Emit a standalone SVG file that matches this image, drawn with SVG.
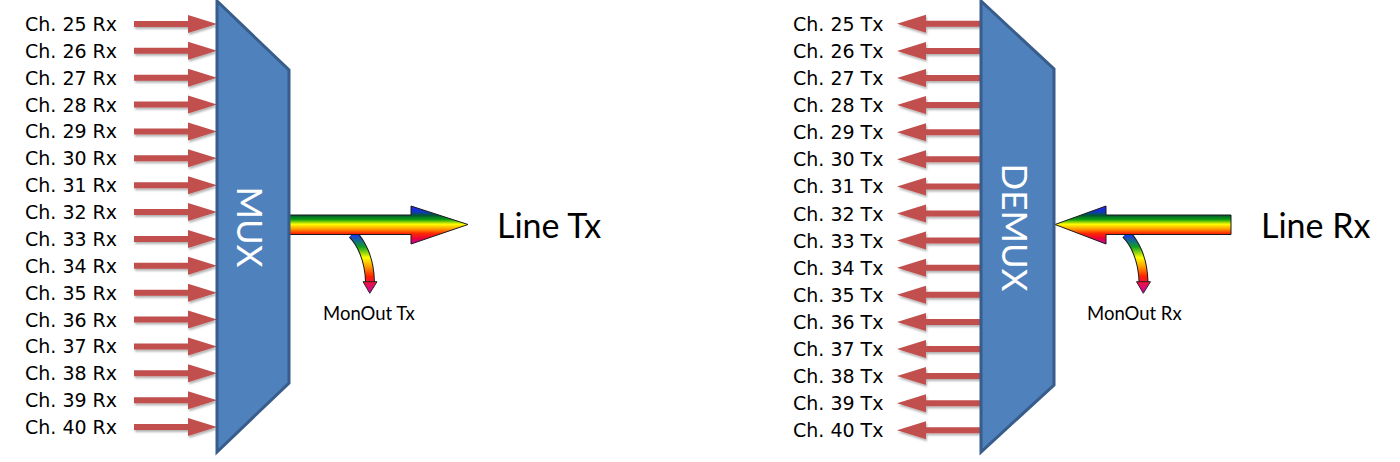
<svg xmlns="http://www.w3.org/2000/svg" width="1400" height="462" viewBox="0 0 1400 462">
<defs>
<style>
.ch{font-family:"DejaVu Sans","Verdana",sans-serif;font-size:19px;fill:#000}
.big{font-family:Lato,"Liberation Sans",sans-serif;font-size:34px;fill:#000}
.mon{font-family:Lato,"Liberation Sans",sans-serif;font-size:18.5px;fill:#000}
.lbl{font-family:Lato,"Liberation Sans",sans-serif;font-size:35px;fill:#fff;text-anchor:middle}
.blk{fill:#4F81BD;stroke:#385D8A;stroke-width:3;stroke-linejoin:miter}
.red{fill:#C0504D}
.rb{stroke:#1a1a1a;stroke-width:1;stroke-linejoin:miter}
</style>
<filter id="sh" x="-10%" y="-50%" width="130%" height="250%">
<feDropShadow dx="1" dy="2" stdDeviation="1.2" flood-color="#000" flood-opacity="0.3"/>
</filter>
<linearGradient id="rbg" x1="0" y1="0" x2="0" y2="1">
<stop offset="0" stop-color="#2a1aff"/>
<stop offset="0.15" stop-color="#1038c0"/>
<stop offset="0.25" stop-color="#005a30"/>
<stop offset="0.36" stop-color="#10a010"/>
<stop offset="0.48" stop-color="#ffff00"/>
<stop offset="0.6" stop-color="#ffa000"/>
<stop offset="0.72" stop-color="#ff2a00"/>
<stop offset="0.86" stop-color="#e8003c"/>
<stop offset="1" stop-color="#c800b4"/>
</linearGradient>
<linearGradient id="smg" gradientUnits="userSpaceOnUse" x1="0" y1="0" x2="0" y2="59">
<stop offset="0" stop-color="#1a30ff"/>
<stop offset="0.22" stop-color="#10a020"/>
<stop offset="0.4" stop-color="#ffff00"/>
<stop offset="0.55" stop-color="#ffa000"/>
<stop offset="0.72" stop-color="#ff2000"/>
<stop offset="1" stop-color="#cc00aa"/>
</linearGradient>
<path id="ra" d="M0,-3 H54 V-9 L83,0 L54,9 V3 H0 Z"/>
<path id="la" d="M0,0 L29,-9 V-3 H83 V3 H29 V9 Z"/>
<g id="mon">
<path d="M0,0 C8,8 17,24 17.5,48" fill="none" stroke="#1a1a1a" stroke-width="10"/>
<path d="M0,0 C8,8 17,24 17.5,48" fill="none" stroke="url(#smg)" stroke-width="8"/>
<path d="M10.5,47.7 L24.5,47.7 L17.3,59.3 Z" fill="url(#smg)" stroke="#1a1a1a" stroke-width="0.9"/>
</g>
</defs>

<g id="connectors">
<g id="mux-inputs" class="red" filter="url(#sh)">
<use href="#ra" x="134" y="24"/>
<use href="#ra" x="134" y="50.87"/>
<use href="#ra" x="134" y="77.73"/>
<use href="#ra" x="134" y="104.6"/>
<use href="#ra" x="134" y="131.47"/>
<use href="#ra" x="134" y="158.33"/>
<use href="#ra" x="134" y="185.2"/>
<use href="#ra" x="134" y="212.07"/>
<use href="#ra" x="134" y="238.93"/>
<use href="#ra" x="134" y="265.8"/>
<use href="#ra" x="134" y="292.67"/>
<use href="#ra" x="134" y="319.53"/>
<use href="#ra" x="134" y="346.4"/>
<use href="#ra" x="134" y="373.27"/>
<use href="#ra" x="134" y="400.13"/>
<use href="#ra" x="134" y="427"/>
</g>
<g id="demux-outputs" class="red" filter="url(#sh)">
<use href="#la" x="897" y="23.8"/>
<use href="#la" x="897" y="50.9"/>
<use href="#la" x="897" y="78"/>
<use href="#la" x="897" y="105.1"/>
<use href="#la" x="897" y="132.2"/>
<use href="#la" x="897" y="159.3"/>
<use href="#la" x="897" y="186.4"/>
<use href="#la" x="897" y="213.5"/>
<use href="#la" x="897" y="240.6"/>
<use href="#la" x="897" y="267.7"/>
<use href="#la" x="897" y="294.8"/>
<use href="#la" x="897" y="321.9"/>
<use href="#la" x="897" y="349"/>
<use href="#la" x="897" y="376.1"/>
<use href="#la" x="897" y="403.2"/>
<use href="#la" x="897" y="430.3"/>
</g>
<g id="monout-tx-arrow"><use href="#mon" x="352.5" y="234"/></g>
<g id="monout-rx-arrow"><use href="#mon" x="1126" y="234"/></g>
<path id="line-tx-arrow" class="rb" fill="url(#rbg)" d="M289,215 H411 V206 L468,224.5 L411,244 V234.5 H289 Z"/>
<path id="line-rx-arrow" class="rb" fill="url(#rbg)" d="M1231,215 H1106 V206 L1055,224.5 L1106,244 V234.5 H1231 Z"/>
</g>

<g id="mux">
<polygon class="blk" points="217,1 289,70 289,383 217,452"/>
<text class="lbl" transform="translate(237,227) rotate(90)">MUX</text>
</g>
<g id="demux">
<polygon class="blk" points="981,1 1054,69 1054,385 981,452"/>
<text class="lbl" transform="translate(1002,227.5) rotate(90)">DEMUX</text>
</g>

<g id="line-tx"><text class="big" x="497" y="238">Line Tx</text></g>
<g id="line-rx"><text class="big" x="1261" y="238">Line Rx</text></g>
<g id="monout-tx"><text class="mon" x="323" y="320">MonOut Tx</text></g>
<g id="monout-rx"><text class="mon" x="1087" y="320">MonOut Rx</text></g>

<g id="mux-labels" class="ch">
<text x="25" y="31">Ch. 25 Rx</text>
<text x="25" y="57.87">Ch. 26 Rx</text>
<text x="25" y="84.73">Ch. 27 Rx</text>
<text x="25" y="111.6">Ch. 28 Rx</text>
<text x="25" y="138.47">Ch. 29 Rx</text>
<text x="25" y="165.33">Ch. 30 Rx</text>
<text x="25" y="192.2">Ch. 31 Rx</text>
<text x="25" y="219.07">Ch. 32 Rx</text>
<text x="25" y="245.93">Ch. 33 Rx</text>
<text x="25" y="272.8">Ch. 34 Rx</text>
<text x="25" y="299.67">Ch. 35 Rx</text>
<text x="25" y="326.53">Ch. 36 Rx</text>
<text x="25" y="353.4">Ch. 37 Rx</text>
<text x="25" y="380.27">Ch. 38 Rx</text>
<text x="25" y="407.13">Ch. 39 Rx</text>
<text x="25" y="434">Ch. 40 Rx</text>
</g>
<g id="demux-labels" class="ch">
<text x="793" y="30.8">Ch. 25 Tx</text>
<text x="793" y="57.9">Ch. 26 Tx</text>
<text x="793" y="85">Ch. 27 Tx</text>
<text x="793" y="112.1">Ch. 28 Tx</text>
<text x="793" y="139.2">Ch. 29 Tx</text>
<text x="793" y="166.3">Ch. 30 Tx</text>
<text x="793" y="193.4">Ch. 31 Tx</text>
<text x="793" y="220.5">Ch. 32 Tx</text>
<text x="793" y="247.6">Ch. 33 Tx</text>
<text x="793" y="274.7">Ch. 34 Tx</text>
<text x="793" y="301.8">Ch. 35 Tx</text>
<text x="793" y="328.9">Ch. 36 Tx</text>
<text x="793" y="356">Ch. 37 Tx</text>
<text x="793" y="383.1">Ch. 38 Tx</text>
<text x="793" y="410.2">Ch. 39 Tx</text>
<text x="793" y="437.3">Ch. 40 Tx</text>
</g>
</svg>
